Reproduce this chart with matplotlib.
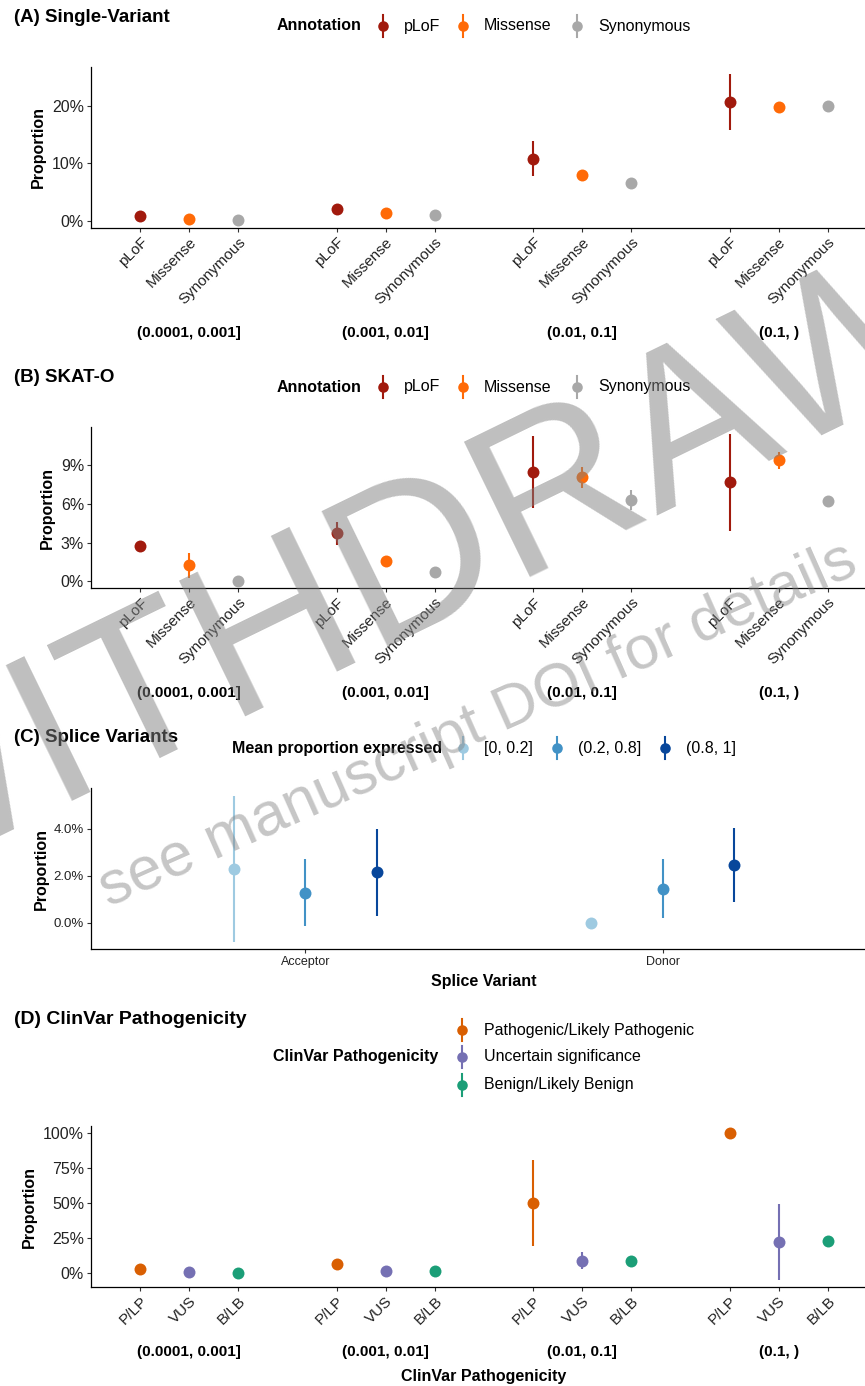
import numpy as np
import matplotlib.pyplot as plt
from matplotlib.lines import Line2D
from matplotlib.transforms import blended_transform_factory

plt.rcParams['font.family'] = ['Liberation Sans', 'DejaVu Sans']

##Figure size in pixels
W, H = 865, 1386
fig = plt.figure(figsize=(W / 100, H / 100), dpi=100)
nan = np.nan

##Data (proportions in %)
maf_bins = ['(0.0001, 0.001]', '(0.001, 0.01]', '(0.01, 0.1]', '(0.1, )']

annotation = ['pLoF', 'Missense', 'Synonymous']
annotation_cols = ['#A11A0D', '#FF6A07', '#A8A8A8']

# (A) single-variant, rows = annotation, cols = MAF bin
sv_prop = [[0.8, 2.0, 10.7, 20.7],
           [0.25, 1.35, 8.0, 19.8],
           [0.07, 0.95, 6.6, 20.0]]
sv_lo = [[nan, nan, 7.7, 15.8],
         [nan, nan, nan, nan],
         [nan, nan, nan, nan]]
sv_hi = [[nan, nan, 13.8, 25.6],
         [nan, nan, nan, nan],
         [nan, nan, nan, nan]]

# (B) SKAT-O
sk_prop = [[2.76, 3.72, 8.47, 7.67],
           [1.26, 1.57, 8.06, 9.38],
           [0.0, 0.7, 6.3, 6.25]]
sk_lo = [[nan, 2.8, 5.68, 3.9],
         [0.28, nan, 7.2, 8.68],
         [nan, nan, 5.53, 5.85]]
sk_hi = [[nan, 4.6, 11.3, 11.4],
         [2.17, nan, 8.84, 10.05],
         [nan, nan, 7.08, 6.6]]

# (C) splice variants, rows = expression bin, cols = acceptor/donor
splice_types = ['Acceptor', 'Donor']
expr_bins = ['[0, 0.2]', '(0.2, 0.8]', '(0.8, 1]']
expr_cols = ['#9ECAE1', '#4292C6', '#08479B']
sp_prop = [[2.28, 0.0],
           [1.26, 1.43],
           [2.14, 2.44]]
sp_lo = [[-0.83, nan],
         [-0.14, 0.21],
         [0.3, 0.88]]
sp_hi = [[5.4, nan],
         [2.7, 2.7],
         [3.99, 4.02]]

# (D) ClinVar
clinvar = ['Pathogenic/Likely Pathogenic', 'Uncertain significance', 'Benign/Likely Benign']
clinvar_short = ['P/LP', 'VUS', 'B/LB']
clinvar_cols = ['#D95F02', '#7570B3', '#1B9E77']
cv_prop = [[2.6, 6.7, 50.0, 100.0],
           [0.5, 1.7, 8.6, 22.2],
           [0.0, 1.4, 8.3, 22.6]]
cv_lo = [[nan, nan, 19.0, nan],
         [nan, nan, 3.1, -4.8],
         [nan, nan, nan, nan]]
cv_hi = [[nan, nan, 81.0, nan],
         [nan, nan, 14.8, 49.4],
         [nan, nan, nan, nan]]


##Helpers
def fx(px):
    return px / W


def fy(py):
    return 1 - py / H


def make_axes(top, bottom):
    ax = fig.add_axes([fx(91), fy(bottom), (877 - 91) / W, (bottom - top) / H])
    for s in ['top', 'right']:
        ax.spines[s].set_visible(False)
    for s in ['left', 'bottom']:
        ax.spines[s].set_linewidth(0.9)
    ax.tick_params(direction='out', length=3, width=0.8, colors='#333333',
                   labelsize=11.5, labelcolor='#222222', pad=2)
    return ax


def draw_series(ax, xs, prop, lo, hi, color):
    xs = np.asarray(xs, float)
    lo = np.asarray(lo, float)
    hi = np.asarray(hi, float)
    ok = ~np.isnan(lo)
    ax.vlines(xs[ok], lo[ok], hi[ok], color=color, lw=1.5, zorder=2)
    ax.plot(xs, prop, 'o', ms=8.6, color=color, mec='none', zorder=3)


def legend_key(xp, yp, color):
    fig.add_artist(Line2D([fx(xp), fx(xp)], [fy(yp - 11), fy(yp + 11)],
                          color=color, lw=1.5, transform=fig.transFigure))
    fig.add_artist(Line2D([fx(xp)], [fy(yp)], marker='o', ms=7.6, color=color,
                          mec='none', transform=fig.transFigure))


def legend_row(yp, title, title_x, labels, colors, key_xs):
    fig.text(fx(title_x), fy(yp), title, weight='bold', size=11.5, va='center')
    for lab, col, kx in zip(labels, colors, key_xs):
        legend_key(kx, yp, col)
        fig.text(fx(kx + 21), fy(yp), lab, size=11.5, va='center')


def grouped_panel(ax, props, los, his, cols, ticklabels, label_y):
    n = len(props)
    xs_all, labs_all = [], []
    for g in range(len(maf_bins)):
        for i in range(n):
            xs_all.append(g * (n + 1) + i)
            labs_all.append(ticklabels[i])
    for i in range(n):
        xs = [g * (n + 1) + i for g in range(len(maf_bins))]
        draw_series(ax, xs, props[i], los[i], his[i], cols[i])
    ax.set_xlim(-1, len(maf_bins) * (n + 1) - 1)
    ax.set_xticks(xs_all)
    ax.set_xticklabels(labs_all, rotation=45, ha='right', va='top',
                       rotation_mode='anchor', size=11)
    trans = blended_transform_factory(ax.transData, fig.transFigure)
    for g, lab in enumerate(maf_bins):
        ax.text(g * (n + 1) + (n - 1) / 2, fy(label_y), lab, transform=trans,
                ha='center', va='center', weight='bold', size=11)


def pct_ticks(ax, ticks, fmt, size=11.5):
    ax.set_yticks(ticks)
    ax.set_yticklabels([fmt.format(t) for t in ticks], size=size)


##(A) Single-Variant
axA = make_axes(66.7, 227.7)
grouped_panel(axA, sv_prop, sv_lo, sv_hi, annotation_cols, annotation, 333)
axA.set_ylim(-1.22, 26.8)
pct_ticks(axA, [0, 10, 20], '{:.0f}%')
fig.text(fx(38), fy(147), 'Proportion', rotation=90, weight='bold', size=11.5,
         ha='center', va='center')
fig.text(fx(14), fy(17), '(A) Single-Variant', weight='bold', size=13.5, va='center')
legend_row(26, 'Annotation', 277, annotation, annotation_cols, [383, 463, 577])

##(B) SKAT-O
axB = make_axes(427.3, 588.3)
grouped_panel(axB, sk_prop, sk_lo, sk_hi, annotation_cols, annotation, 693)
axB.set_ylim(-0.54, 11.94)
pct_ticks(axB, [0, 3, 6, 9], '{:.0f}%')
fig.text(fx(47), fy(508), 'Proportion', rotation=90, weight='bold', size=11.5,
         ha='center', va='center')
fig.text(fx(14), fy(377), '(B) SKAT-O', weight='bold', size=13.5, va='center')
legend_row(387, 'Annotation', 277, annotation, annotation_cols, [383, 463, 577])

##(C) Splice Variants
axC = make_axes(788.3, 949.3)
offsets = [-0.2, 0.0, 0.2]
for i in range(len(expr_bins)):
    xs = [j + 1 + offsets[i] for j in range(len(splice_types))]
    draw_series(axC, xs, sp_prop[i], sp_lo[i], sp_hi[i], expr_cols[i])
axC.set_xlim(0.4, 2.6)
axC.set_xticks([1, 2])
axC.set_xticklabels(splice_types, size=9)
axC.set_ylim(-1.13, 5.72)
pct_ticks(axC, [0, 2, 4], '{:.1f}%', size=9.5)
axC.set_xlabel('Splice Variant', weight='bold', size=11.5, labelpad=4)
fig.text(fx(41), fy(869), 'Proportion', rotation=90, weight='bold', size=11.5,
         ha='center', va='center')
fig.text(fx(14), fy(738), '(C) Splice Variants', weight='bold', size=13.5, va='center')
legend_row(748, 'Mean proportion expressed', 232, expr_bins, expr_cols, [463, 557, 665])

##(D) ClinVar Pathogenicity
axD = make_axes(1126, 1287.3)
grouped_panel(axD, cv_prop, cv_lo, cv_hi, clinvar_cols, clinvar_short, 1352)
axD.set_ylim(-10.25, 105.25)
pct_ticks(axD, [0, 25, 50, 75, 100], '{:.0f}%')
fig.text(fx(484), fy(1376), 'ClinVar Pathogenicity', weight='bold', size=11.5,
         ha='center', va='center')
fig.text(fx(29), fy(1207), 'Proportion', rotation=90, weight='bold', size=11.5,
         ha='center', va='center')
fig.text(fx(14), fy(1020), '(D) ClinVar Pathogenicity', weight='bold', size=14,
         va='center')
fig.text(fx(273), fy(1057), 'ClinVar Pathogenicity', weight='bold', size=11.5,
         va='center')
for lab, col, yp in zip(clinvar, clinvar_cols, [1030, 1057, 1085]):
    legend_key(462, yp, col)
    fig.text(fx(484), fy(yp), lab, size=11.5, va='center')

##Withdrawn watermark
fig.text(fx(464), fy(546), 'WITHDRAWN', rotation=26, size=158, color='#808080',
         alpha=0.5, ha='center', va='center', rotation_mode='anchor', zorder=10)
fig.text(fx(478), fy(726), 'see manuscript DOI for details', rotation=24, size=44,
         color='#808080', alpha=0.45, ha='center', va='center',
         rotation_mode='anchor', zorder=10)

fig.savefig('out.png', dpi=100)
